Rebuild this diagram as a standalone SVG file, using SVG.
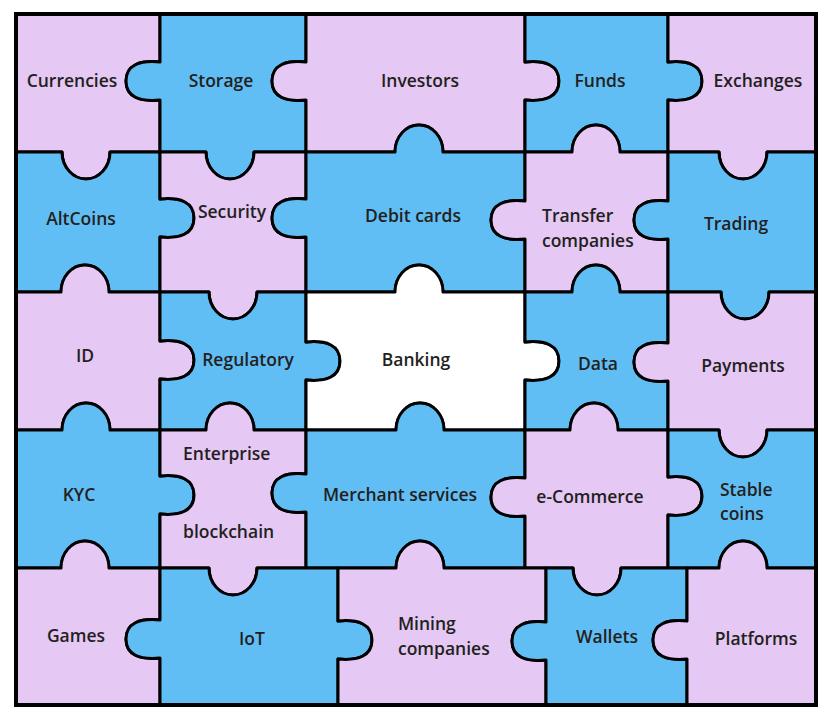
<svg xmlns="http://www.w3.org/2000/svg" width="828" height="717" viewBox="0 0 828 717">
<style>
.p{stroke:#000;stroke-width:3;stroke-linejoin:round}
.pink{fill:#E5C8F3}
.blue{fill:#61BEF5}
.white{fill:#FFFFFF}
text{font-family:"Open Sans","Noto Sans","Liberation Sans",sans-serif;font-size:17.5px;font-weight:600;fill:#231F20;text-anchor:middle}
.l{text-anchor:start}
</style>
<rect width="828" height="717" fill="#fff"/>
<g id="currencies"><path class="p pink" d="M16,14 H160 V62 c-20,-2 -34,3 -34,19 c0,16 14,21 34,19 V152 H110 c0,15 -10.75,27 -24,27 c-13.25,0 -24,-12 -24,-27 H16 Z"/><text x="72" y="87">Currencies</text></g>
<g id="storage"><path class="p blue" d="M160,14 H306 V62 c-20,-2 -34,3 -34,19 c0,16 14,21 34,19 V152 H254 c0,15 -10.75,27 -24,27 c-13.25,0 -24,-12 -24,-27 H160 V100 c-20,2 -34,-3 -34,-19 c0,-16 14,-21 34,-19 Z"/><text x="221" y="87">Storage</text></g>
<g id="investors"><path class="p pink" d="M306,14 H525 V62 c20,-2 34,3 34,19 c0,16 -14,21 -34,19 V152 H443 c0,-15 -10.75,-27 -24,-27 c-13.25,0 -24,12 -24,27 H306 V100 c-20,2 -34,-3 -34,-19 c0,-16 14,-21 34,-19 Z"/><text x="420" y="87">Investors</text></g>
<g id="funds"><path class="p blue" d="M525,14 H668 V62 c20,-2 34,3 34,19 c0,16 -14,21 -34,19 V152 H620 c0,-15 -10.75,-27 -24,-27 c-13.25,0 -24,12 -24,27 H525 V100 c20,2 34,-3 34,-19 c0,-16 -14,-21 -34,-19 Z"/><text x="600" y="87">Funds</text></g>
<g id="exchanges"><path class="p pink" d="M668,14 H816 V152 H767 c0,15 -10.75,27 -24,27 c-13.25,0 -24,-12 -24,-27 H668 V100 c20,2 34,-3 34,-19 c0,-16 -14,-21 -34,-19 Z"/><text x="758" y="87">Exchanges</text></g>

<g id="altcoins"><path class="p blue" d="M16,152 H62 c0,15 10.75,27 24,27 c13.25,0 24,-12 24,-27 H160 V199 c20,-2 34,3 34,19 c0,16 -14,21 -34,19 V292 H109 c0,-15 -10.75,-27 -24,-27 c-13.25,0 -24,12 -24,27 H16 Z"/><text x="81" y="225">AltCoins</text></g>
<g id="security"><path class="p pink" d="M160,152 H206 c0,15 10.75,27 24,27 c13.25,0 24,-12 24,-27 H306 V199 c-20,-2 -34,3 -34,19 c0,16 14,21 34,19 V292 H257 c0,15 -10.75,27 -24,27 c-13.25,0 -24,-12 -24,-27 H160 V237 c20,2 34,-3 34,-19 c0,-16 -14,-21 -34,-19 Z"/><text x="232" y="218">Security</text></g>
<g id="debit-cards"><path class="p blue" d="M306,152 H395 c0,-15 10.75,-27 24,-27 c13.25,0 24,12 24,27 H525 V201 c-20,-2 -34,3 -34,19 c0,16 14,21 34,19 V292 H443 c0,-15 -10.75,-27 -24,-27 c-13.25,0 -24,12 -24,27 H306 V237 c-20,2 -34,-3 -34,-19 c0,-16 14,-21 34,-19 Z"/><text x="413" y="222">Debit cards</text></g>
<g id="transfer-companies"><path class="p pink" d="M525,152 H572 c0,-15 10.75,-27 24,-27 c13.25,0 24,12 24,27 H668 V201 c-20,-2 -34,3 -34,19 c0,16 14,21 34,19 V292 H620 c0,-15 -10.75,-27 -24,-27 c-13.25,0 -24,12 -24,27 H525 V239 c-20,2 -34,-3 -34,-19 c0,-16 14,-21 34,-19 Z"/><text class="l" x="542" y="222">Transfer</text><text class="l" x="542" y="247">companies</text></g>
<g id="trading"><path class="p blue" d="M668,152 H719 c0,15 10.75,27 24,27 c13.25,0 24,-12 24,-27 H816 V292 H769 c0,15 -10.75,27 -24,27 c-13.25,0 -24,-12 -24,-27 H668 V239 c-20,2 -34,-3 -34,-19 c0,-16 14,-21 34,-19 Z"/><text x="736" y="230">Trading</text></g>

<g id="id"><path class="p pink" d="M16,292 H61 c0,-15 10.75,-27 24,-27 c13.25,0 24,12 24,27 H160 V341 c20,-2 34,3 34,19 c0,16 -14,21 -34,19 V430 H110 c0,-15 -10.75,-27 -24,-27 c-13.25,0 -24,12 -24,27 H16 Z"/><text x="85" y="362">ID</text></g>
<g id="regulatory"><path class="p blue" d="M160,292 H209 c0,15 10.75,27 24,27 c13.25,0 24,-12 24,-27 H306 V342 c20,-2 34,3 34,19 c0,16 -14,21 -34,19 V430 H254 c0,-15 -10.75,-27 -24,-27 c-13.25,0 -24,12 -24,27 H160 V379 c20,2 34,-3 34,-19 c0,-16 -14,-21 -34,-19 Z"/><text x="248" y="366">Regulatory</text></g>
<g id="banking"><path class="p white" d="M306,292 H395 c0,-15 10.75,-27 24,-27 c13.25,0 24,12 24,27 H525 V342 c20,-2 34,3 34,19 c0,16 -14,21 -34,19 V430 H444 c0,-15 -10.75,-27 -24,-27 c-13.25,0 -24,12 -24,27 H306 V380 c20,2 34,-3 34,-19 c0,-16 -14,-21 -34,-19 Z"/><text x="416" y="366">Banking</text></g>
<g id="data"><path class="p blue" d="M525,292 H572 c0,-15 10.75,-27 24,-27 c13.25,0 24,12 24,27 H668 V343 c-20,-2 -34,3 -34,19 c0,16 14,21 34,19 V430 H618 c0,-15 -10.75,-27 -24,-27 c-13.25,0 -24,12 -24,27 H525 V380 c20,2 34,-3 34,-19 c0,-16 -14,-21 -34,-19 Z"/><text x="598" y="370">Data</text></g>
<g id="payments"><path class="p pink" d="M668,292 H721 c0,15 10.75,27 24,27 c13.25,0 24,-12 24,-27 H816 V430 H767 c0,15 -10.75,27 -24,27 c-13.25,0 -24,-12 -24,-27 H668 V381 c-20,2 -34,-3 -34,-19 c0,-16 14,-21 34,-19 Z"/><text x="743" y="372">Payments</text></g>

<g id="kyc"><path class="p blue" d="M16,430 H62 c0,-15 10.75,-27 24,-27 c13.25,0 24,12 24,27 H160 V476 c20,-2 34,3 34,19 c0,16 -14,21 -34,19 V568 H109 c0,-15 -10.75,-27 -24,-27 c-13.25,0 -24,12 -24,27 H16 Z"/><text x="79" y="501">KYC</text></g>
<g id="enterprise-blockchain"><path class="p pink" d="M160,430 H206 c0,-15 10.75,-27 24,-27 c13.25,0 24,12 24,27 H306 V474 c-20,-2 -34,3 -34,19 c0,16 14,21 34,19 V568 H257 c0,15 -10.75,27 -24,27 c-13.25,0 -24,-12 -24,-27 H160 V514 c20,2 34,-3 34,-19 c0,-16 -14,-21 -34,-19 Z"/><text class="l" x="183" y="460">Enterprise</text><text class="l" x="183" y="538">blockchain</text></g>
<g id="merchant-services"><path class="p blue" d="M306,430 H396 c0,-15 10.75,-27 24,-27 c13.25,0 24,12 24,27 H525 V478 c-20,-2 -34,3 -34,19 c0,16 14,21 34,19 V568 H444 c0,-15 -10.75,-27 -24,-27 c-13.25,0 -24,12 -24,27 H306 V512 c-20,2 -34,-3 -34,-19 c0,-16 14,-21 34,-19 Z"/><text x="400" y="501">Merchant services</text></g>
<g id="e-commerce"><path class="p pink" d="M525,430 H570 c0,-15 10.75,-27 24,-27 c13.25,0 24,12 24,27 H668 V477 c20,-2 34,3 34,19 c0,16 -14,21 -34,19 V568 H621 c0,15 -10.75,27 -24,27 c-13.25,0 -24,-12 -24,-27 H525 V516 c-20,2 -34,-3 -34,-19 c0,-16 14,-21 34,-19 Z"/><text x="590" y="503">e-Commerce</text></g>
<g id="stable-coins"><path class="p blue" d="M668,430 H719 c0,15 10.75,27 24,27 c13.25,0 24,-12 24,-27 H816 V568 H767 c0,-15 -10.75,-27 -24,-27 c-13.25,0 -24,12 -24,27 H668 V515 c20,2 34,-3 34,-19 c0,-16 -14,-21 -34,-19 Z"/><text class="l" x="720" y="496">Stable</text><text class="l" x="720" y="520">coins</text></g>

<g id="games"><path class="p pink" d="M16,568 H61 c0,-15 10.75,-27 24,-27 c13.25,0 24,12 24,27 H160 V620 c-20,-2 -34,3 -34,19 c0,16 14,21 34,19 V705 H16 Z"/><text x="76" y="642">Games</text></g>
<g id="iot"><path class="p blue" d="M160,568 H209 c0,15 10.75,27 24,27 c13.25,0 24,-12 24,-27 H338 V621 c20,-2 34,3 34,19 c0,16 -14,21 -34,19 V705 H160 V658 c-20,2 -34,-3 -34,-19 c0,-16 14,-21 34,-19 Z"/><text x="252" y="645">IoT</text></g>
<g id="mining-companies"><path class="p pink" d="M338,568 H396 c0,-15 10.75,-27 24,-27 c13.25,0 24,12 24,27 H546 V622 c-20,-2 -34,3 -34,19 c0,16 14,21 34,19 V705 H338 V659 c20,2 34,-3 34,-19 c0,-16 -14,-21 -34,-19 Z"/><text class="l" x="398" y="630">Mining</text><text class="l" x="398" y="655">companies</text></g>
<g id="wallets"><path class="p blue" d="M546,568 H573 c0,15 10.75,27 24,27 c13.25,0 24,-12 24,-27 H687 V621 c-20,-2 -34,3 -34,19 c0,16 14,21 34,19 V705 H546 V660 c-20,2 -34,-3 -34,-19 c0,-16 14,-21 34,-19 Z"/><text x="607" y="643">Wallets</text></g>
<g id="platforms"><path class="p pink" d="M687,568 H719 c0,-15 10.75,-27 24,-27 c13.25,0 24,12 24,27 H816 V705 H687 V659 c-20,2 -34,-3 -34,-19 c0,-16 14,-21 34,-19 Z"/><text x="756" y="645">Platforms</text></g>

<rect x="16" y="14" width="800" height="691" fill="none" stroke="#000" stroke-width="4"/>
</svg>
